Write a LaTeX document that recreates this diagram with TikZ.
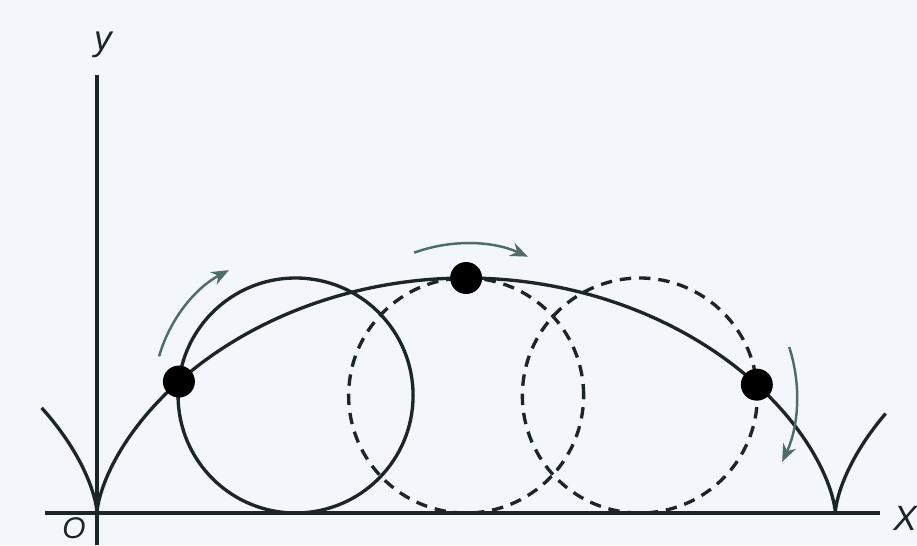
\documentclass[tikz,border=0pt]{standalone}
\usepackage{fontspec}
\setsansfont{Liberation Sans}
\usetikzlibrary{arrows.meta, positioning, calc}
\definecolor{paperblue}{RGB}{243,247,252}
\definecolor{inkdark}{RGB}{28,38,38}
\definecolor{turngray}{RGB}{78,108,106}

\begin{document}
\begin{tikzpicture}[
    axis/.style={line width=2.3pt, color=inkdark},
    curve/.style={line width=1.9pt, color=inkdark},
    wheel/.style={circle, draw=inkdark, line width=1.9pt, minimum size=4.7cm, inner sep=0pt},
    ghost/.style={wheel, dash pattern=on 6.5pt off 4.5pt},
    dot/.style={circle, fill=black, minimum size=0.64cm, inner sep=0pt},
    turn/.style={-{Stealth[length=10pt, width=8pt]}, line width=1.4pt, color=turngray},
    lbl/.style={font=\sffamily\itshape\fontsize{20}{20}\selectfont, color=inkdark, inner sep=0pt}
]
\def\rad{2.35}
\fill[paperblue] (-1.94,-0.64) rectangle (16.4,10.26);
\useasboundingbox (-1.94,-0.64) rectangle (16.4,10.26);
% axes
\coordinate (xl) at (-1.04,0);
\coordinate (xr) at (15.66,0);
\coordinate (yb) at (0,-0.64);
\coordinate (yt) at (0,8.76);
\draw[axis] (xl) -- (xr);
\draw[axis] (yb) -- (yt);
\node[lbl] (ylab) at (0.12,9.36) {y};
\node[lbl] (xlab) at (16.16,-0.1) {X};
\node[lbl, font=\sffamily\itshape\fontsize{17}{17}\selectfont] (olab) at (-0.46,-0.3) {O};
% cycloid
\draw[curve] plot[domain=-1.465:7.70, samples=240, smooth] ({\rad*(\x - sin(\x r))}, {\rad*(1-cos(\x r))});
% rolling circles
\node[wheel] (wheelA) at ({\rad*1.69}, \rad) {};
\node[ghost] (wheelB) at ({\rad*pi}, \rad) {};
\node[ghost] (wheelC) at ({\rad*4.62}, \rad) {};
% points on the rim
\node[dot] (ptA) at ({\rad*(1.69 - sin(1.69 r))}, {\rad*(1-cos(1.69 r))}) {};
\node[dot] (ptB) at ({\rad*pi}, {2*\rad}) {};
\node[dot] (ptC) at ({\rad*(4.62 - sin(4.62 r))}, {\rad*(1-cos(4.62 r))}) {};
% direction of rotation
\draw[turn] ($(wheelA.center)+(164:2.84)$) arc[start angle=164, end angle=118, radius=2.84];
\draw[turn] ($(wheelB.center)+(110:3.04)$) arc[start angle=110, end angle=66, radius=3.04];
\draw[turn] ($(wheelC.center)+(18:3.14)$) arc[start angle=18, end angle=-25, radius=3.14];
\end{tikzpicture}
\end{document}
